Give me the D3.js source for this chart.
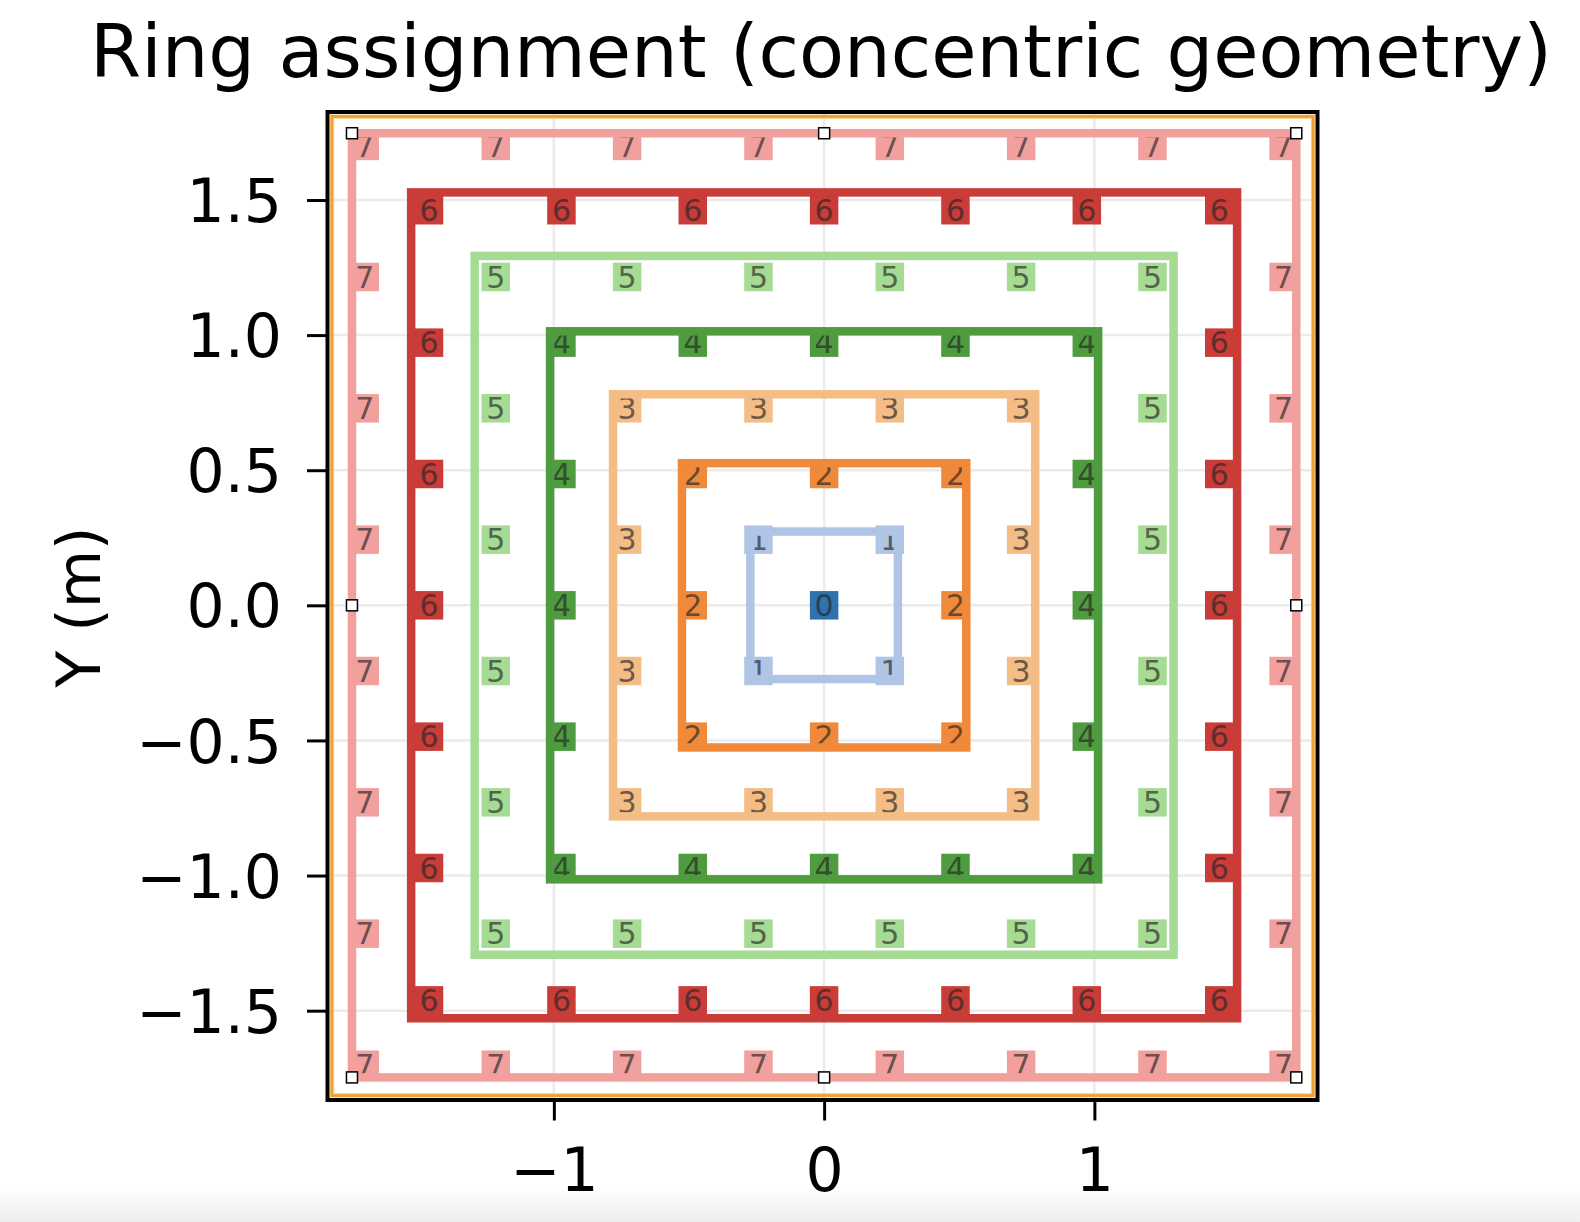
<!DOCTYPE html>
<html>
<head>
<meta charset="utf-8">
<script src="https://cdn.jsdelivr.net/npm/d3@7"></script>
<style>
  html, body { margin: 0; padding: 0; background: #fff; }
  svg { display: block; }
  text { font-family: "DejaVu Sans", sans-serif; }
</style>
</head>
<body>
<div id="chart"></div>
<script>
// ---------------- data ----------------
const titleText = "Ring assignment (concentric geometry)";
const yLabelText = "Y (m)";
const rings = [0, 1, 2, 3, 4, 5, 6, 7];
const ringColors = ["#2f72ae", "#b0c5e5", "#f0893a", "#f4bd86", "#4f9c40", "#a6db94", "#c93c38", "#f2a09e"];
// coordinates of the points along one side of each ring (same in x and y)
const ring0Side = [0];
const ring1Side = [-0.243, 0.243];
const ring2Side = [-0.486, 0, 0.486];
const ring3Side = [-0.729, -0.243, 0.243, 0.729];
const ring4Side = [-0.972, -0.486, 0, 0.486, 0.972];
const ring5Side = [-1.215, -0.729, -0.243, 0.243, 0.729, 1.215];
const ring6Side = [-1.462, -0.972, -0.486, 0, 0.486, 0.972, 1.462];
const ring7Side = [-1.70, -1.215, -0.729, -0.243, 0.243, 0.729, 1.215, 1.70];
const ringSides = [ring0Side, ring1Side, ring2Side, ring3Side, ring4Side, ring5Side, ring6Side, ring7Side];
// half-size of the square outline drawn for each ring (ring 0 has none)
const ringOutlineHalf = [null, 0.273, 0.526, 0.781, 1.014, 1.293, 1.528, 1.747];
const xTicks = [-1, 0, 1];
const xTickLabels = ["\u22121", "0", "1"];
const yTicks = [-1.5, -1.0, -0.5, 0.0, 0.5, 1.0, 1.5];
const yTickLabels = ["\u22121.5", "\u22121.0", "\u22120.5", "0.0", "0.5", "1.0", "1.5"];

// build points on the perimeter of each ring from the side coordinates
const points = [];
rings.forEach(r => {
  const s = ringSides[r];
  const lo = s[0], hi = s[s.length - 1];
  s.forEach(px => s.forEach(py => {
    if (px === lo || px === hi || py === lo || py === hi) points.push({ring: r, x: px, y: py});
  }));
});

// ---------------- layout ----------------
const W = 1580, H = 1222;
const svg = d3.select("#chart").append("svg").attr("width", W).attr("height", H);

const defs = svg.append("defs");
const grad = defs.append("linearGradient").attr("id", "bottomFade").attr("x1", 0).attr("x2", 0).attr("y1", 0).attr("y2", 1);
grad.append("stop").attr("offset", "0%").attr("stop-color", "#ffffff");
grad.append("stop").attr("offset", "100%").attr("stop-color", "#eeeeee");
svg.append("rect").attr("x", 0).attr("y", 1188).attr("width", W).attr("height", H - 1188).attr("fill", "url(#bottomFade)");

const x = d3.scaleLinear().domain([-1.832, 1.820]).range([329, 1316]);
const y = d3.scaleLinear().domain([-1.825, 1.820]).range([1098.5, 113.5]);
const [x0, x1] = x.range();
const [y1, y0] = y.range();

const plot = svg.append("g");
defs.append("clipPath").attr("id", "axclip").append("rect")
  .attr("x", x0).attr("y", y0).attr("width", x1 - x0).attr("height", y1 - y0);
const inner = plot.append("g").attr("clip-path", "url(#axclip)");

// grid
inner.append("g").selectAll("line").data(xTicks).join("line")
  .attr("x1", d => x(d)).attr("x2", d => x(d)).attr("y1", y0).attr("y2", y1)
  .attr("stroke", "#ebebeb").attr("stroke-width", 2.5);
inner.append("g").selectAll("line").data(yTicks).join("line")
  .attr("y1", d => y(d)).attr("y2", d => y(d)).attr("x1", x0).attr("x2", x1)
  .attr("stroke", "#ebebeb").attr("stroke-width", 2.5);

// markers
const box = 28.5;
inner.append("g").selectAll("rect").data(points).join("rect")
  .attr("x", d => x(d.x) - box / 2).attr("y", d => y(d.y) - box / 2)
  .attr("width", box).attr("height", box)
  .attr("fill", d => ringColors[d.ring]);
inner.append("g").selectAll("text").data(points).join("text")
  .attr("x", d => x(d.x)).attr("y", d => y(d.y))
  .attr("dy", "0.36em").attr("text-anchor", "middle")
  .attr("font-size", 30).attr("fill", "#262626").attr("fill-opacity", 0.68)
  .text(d => d.ring);

// ring outlines
inner.append("g").selectAll("rect").data(rings.filter(r => ringOutlineHalf[r] !== null)).join("rect")
  .attr("x", r => x(-ringOutlineHalf[r])).attr("y", r => y(ringOutlineHalf[r]))
  .attr("width", r => x(ringOutlineHalf[r]) - x(-ringOutlineHalf[r]))
  .attr("height", r => y(-ringOutlineHalf[r]) - y(ringOutlineHalf[r]))
  .attr("fill", "none").attr("stroke", r => ringColors[r]).attr("stroke-width", 8.5);

// selection handles on outermost outline
const hOut = ringOutlineHalf[7];
const handles = [[-hOut, hOut], [0, hOut], [hOut, hOut], [-hOut, 0], [hOut, 0], [-hOut, -hOut], [0, -hOut], [hOut, -hOut]];
inner.append("g").selectAll("rect").data(handles).join("rect")
  .attr("x", d => x(d[0]) - 5.5).attr("y", d => y(d[1]) - 5.5)
  .attr("width", 11).attr("height", 11)
  .attr("fill", "#fff").attr("stroke", "#000").attr("stroke-width", 1.5);

// frame: orange inner, black outer
plot.append("rect").attr("x", x0 + 3).attr("y", y0 + 3).attr("width", x1 - x0 - 6).attr("height", y1 - y0 - 6)
  .attr("fill", "none").attr("stroke", "#eea235").attr("stroke-width", 3.5);
plot.append("rect").attr("x", x0 + 4.8).attr("y", y0 + 4.8).attr("width", x1 - x0 - 9.6).attr("height", y1 - y0 - 9.6)
  .attr("fill", "none").attr("stroke", "#f8d589").attr("stroke-width", 0.8);
plot.append("rect").attr("x", x0 - 1.5).attr("y", y0 - 1.5).attr("width", x1 - x0 + 3).attr("height", y1 - y0 + 3)
  .attr("fill", "none").attr("stroke", "#000").attr("stroke-width", 4);

// axes
const yAxis = d3.axisLeft(y).tickValues(yTicks).tickSize(20).tickPadding(25)
  .tickFormat((d, i) => yTickLabels[i]);
const gy = svg.append("g").attr("transform", `translate(${x0 - 2},0)`).call(yAxis);
gy.select(".domain").remove();
gy.selectAll(".tick line").attr("stroke", "#000").attr("stroke-width", 3);
gy.selectAll(".tick text").attr("font-size", 60).attr("font-family", "DejaVu Sans, sans-serif")
  .attr("fill", "#000").attr("dy", "0.36em");

const xAxis = d3.axisBottom(x).tickValues(xTicks).tickSize(20).tickPadding(28)
  .tickFormat((d, i) => xTickLabels[i]);
const gx = svg.append("g").attr("transform", `translate(0,${y1 + 2})`).call(xAxis);
gx.select(".domain").remove();
gx.selectAll(".tick line").attr("stroke", "#000").attr("stroke-width", 3);
gx.selectAll(".tick text").attr("font-size", 60).attr("font-family", "DejaVu Sans, sans-serif")
  .attr("fill", "#000").attr("dy", "0.71em");

// title and y label
svg.append("text").attr("x", 821).attr("y", 76.5).attr("text-anchor", "middle")
  .attr("font-size", 73.6).attr("fill", "#000").text(titleText);
svg.append("text").attr("transform", "translate(100,607) rotate(-90)").attr("text-anchor", "middle")
  .attr("font-size", 60).attr("fill", "#000").text(yLabelText);
</script>
</body>
</html>
